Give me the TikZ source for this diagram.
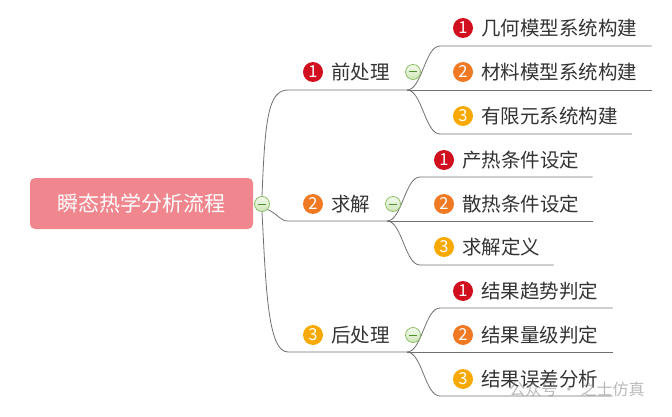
\documentclass[tikz,border=0pt]{standalone}
\usepackage{fontspec}
\setmainfont{Noto Sans CJK SC}
\usetikzlibrary{positioning}
\definecolor{rootpink}{HTML}{F0868E}
\definecolor{bred}{HTML}{D20F1E}
\definecolor{borange}{HTML}{F07A24}
\definecolor{byellow}{HTML}{F8A900}
\definecolor{linegray}{HTML}{707070}
\definecolor{txtgray}{HTML}{333333}
\definecolor{foldring}{HTML}{8CBF66}
\definecolor{foldtop}{HTML}{F4FAEE}
\definecolor{foldbot}{HTML}{CDE5B6}
\definecolor{foldbar}{HTML}{4F8F2F}

\begin{document}
\begin{tikzpicture}[x=1pt, y=-1pt, font=\fontsize{19.5}{20}\selectfont,
  link/.style={draw=linegray, line width=0.8pt},
  rootbox/.style={rounded corners=5pt, fill=rootpink, text=white, minimum width=223pt,
    minimum height=51pt, font=\fontsize{21}{21}\selectfont},
  badge/.style={circle, fill=#1, text=white, inner sep=0pt, minimum size=20pt,
    font=\fontsize{16.5}{16.5}\selectfont},
  item/.style={text=txtgray, inner sep=0pt},
  fold/.style={circle, draw=foldring, top color=foldtop, bottom color=foldbot, line width=0.8pt,
    inner sep=0pt, minimum size=15pt, path picture={\draw[foldbar, line width=1pt]
      ([xshift=-4pt]path picture bounding box.center) -- ([xshift=4pt]path picture bounding box.center);}}]
\useasboundingbox (0,0) rectangle (672,417);

% root
\node[rootbox] (root) at (141.5,203.5) {瞬态热学分析流程};

% first level
\node[badge=bred]    (b1) at (313,72)  {1};
\node[item, right=8pt of b1] (t1) {前处理};
\node[badge=borange] (b2) at (313,204) {2};
\node[item, right=8pt of b2] (t2) {求解};
\node[badge=byellow] (b3) at (313,335) {3};
\node[item, right=8pt of b3] (t3) {后处理};
\coordinate (u1) at (288,90);  \coordinate (j1) at (407,90);
\coordinate (u2) at (288,221); \coordinate (j2) at (387,221);
\coordinate (u3) at (288,352); \coordinate (j3) at (407,352);

% second level
\node[badge=bred]    (b11) at (463,28)  {1};
\node[item, right=8pt of b11] (t11) {几何模型系统构建};
\node[badge=borange] (b12) at (463,72)  {2};
\node[item, right=8pt of b12] (t12) {材料模型系统构建};
\node[badge=byellow] (b13) at (463,116) {3};
\node[item, right=8pt of b13] (t13) {有限元系统构建};
\node[badge=bred]    (b21) at (444,160) {1};
\node[item, right=8pt of b21] (t21) {产热条件设定};
\node[badge=borange] (b22) at (444,204) {2};
\node[item, right=8pt of b22] (t22) {散热条件设定};
\node[badge=byellow] (b23) at (444,247) {3};
\node[item, right=8pt of b23] (t23) {求解定义};
\node[badge=bred]    (b31) at (463,291) {1};
\node[item, right=8pt of b31] (t31) {结果趋势判定};
\node[badge=borange] (b32) at (463,335) {2};
\node[item, right=8pt of b32] (t32) {结果量级判定};
\node[badge=byellow] (b33) at (463,379) {3};
\node[item, right=8pt of b33] (t33) {结果误差分析};
\coordinate (l11) at (440,46);  \coordinate (l13) at (440,134);
\coordinate (l21) at (420,177); \coordinate (l23) at (420,265);
\coordinate (l31) at (440,308); \coordinate (l33) at (440,396);

% root to first level
\node[fold] (f0) at (262,204) {};
\draw[link] (f0.north) .. controls (265,120) and (268,90) .. (u1) -- (j1);
\draw[link] (f0.south east) .. controls (278,214) and (280,221) .. (u2) -- (j2);
\draw[link] (f0.south) .. controls (266,290) and (268,352) .. (u3) -- (j3);

% first level to second level
\draw[link] (j1) .. controls (422,90) and (425,46) .. (l11) -- ([xshift=14pt]t11.east |- l11);
\draw[link] (j1) -- ([xshift=14pt]t12.east |- j1);
\draw[link] (j1) .. controls (422,90) and (425,134) .. (l13) -- ([xshift=14pt]t13.east |- l13);
\draw[link] (j2) .. controls (402,221) and (405,177) .. (l21) -- ([xshift=13pt]t21.east |- l21);
\draw[link] (j2) -- ([xshift=13pt]t22.east |- j2);
\draw[link] (j2) .. controls (402,221) and (405,265) .. (l23) -- ([xshift=13pt]t23.east |- l23);
\draw[link] (j3) .. controls (422,352) and (425,308) .. (l31) -- ([xshift=14pt]t31.east |- l31);
\draw[link] (j3) -- ([xshift=14pt]t32.east |- j3);
\draw[link] (j3) .. controls (422,352) and (425,396) .. (l33) -- ([xshift=14pt]t33.east |- l33);
\node[fold] (f1) at (413,72)  {};
\node[fold] (f2) at (393,204) {};
\node[fold] (f3) at (413,335) {};

% watermark
\node[text=gray, opacity=0.55, font=\fontsize{16}{16}\selectfont] (mark) at (577,389) {公众号 · 之士仿真};
\end{tikzpicture}
\end{document}
